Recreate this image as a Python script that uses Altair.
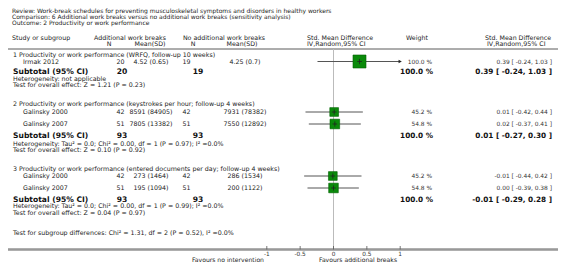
import altair as alt
import pandas as pd

# ---------------- data ----------------
title_lines = [
    "Review:  Work-break schedules for preventing musculoskeletal symptoms and disorders in healthy workers",
    "Comparison:  6 Additional work breaks versus no additional work breaks (sensitivity analysis)",
    "Outcome:  2 Productivity or work performance",
]
group_titles = [
    "1 Productivity or work performance (WRFQ, follow-up 10 weeks)",
    "2 Productivity or work performance (keystrokes per hour; follow-up 4 weeks)",
    "3 Productivity or work performance (entered documents per day; follow-up 4 weeks)",
]
study_names = ["Irmak 2012", "Galinsky 2000", "Galinsky 2007", "Galinsky 2000", "Galinsky 2007"]
n_exp = [20, 42, 51, 42, 51]
mean_exp = ["4.52 (0.65)", "8591 (84905)", "7805 (13382)", "273 (1464)", "195 (1094)"]
n_ctl = [19, 42, 51, 42, 51]
mean_ctl = ["4.25 (0.7)", "7931 (78382)", "7550 (12892)", "286 (1534)", "200 (1122)"]
smd = [0.39, 0.01, 0.02, -0.01, 0.00]
smd_lo = [-0.24, -0.42, -0.37, -0.44, -0.39]
smd_hi = [1.03, 0.44, 0.41, 0.42, 0.38]
weight = [100.0, 45.2, 54.8, 45.2, 54.8]

sub_n_exp = [20, 93, 93]
sub_n_ctl = [19, 93, 93]
sub_smd = [0.39, 0.01, -0.01]
sub_lo = [-0.24, -0.27, -0.29]
sub_hi = [1.03, 0.30, 0.28]
sub_weight = [100.0, 100.0, 100.0]
heterogeneity = [
    "Heterogeneity: not applicable",
    "Heterogeneity: Tau² = 0.0; Chi² = 0.00, df = 1 (P = 0.97); I² =0.0%",
    "Heterogeneity: Tau² = 0.0; Chi² = 0.00, df = 1 (P = 0.99); I² =0.0%",
]
overall_effect = [
    "Test for overall effect: Z = 1.21 (P = 0.23)",
    "Test for overall effect: Z = 0.10 (P = 0.92)",
    "Test for overall effect: Z = 0.04 (P = 0.97)",
]
subgroup_test = "Test for subgroup differences: Chi² = 1.31, df = 2 (P = 0.52), I² =0.0%"
axis_values = [-1, -0.5, 0, 0.5, 1]
axis_labels = ["-1", "-0.5", "0", "0.5", "1"]
favours_left = "Favours no intervention"
favours_right = "Favours additional breaks"

# ---------------- layout (page pixels) ----------------
OFF = 8
W, H = 550, 257
study_y = [61.5, 112, 124, 176, 188]
group_y = [54.5, 104, 169]
sub_y = [72, 136, 199.5]
het_y = [79, 144, 206]
ov_y = [85, 149.5, 212.5]
subgroup_y = 233
title_y = [10.6, 16.9, 23.2]
head1_y, head2_y = 38, 44
top_line_y = 49
axis_line_y = 249.5
FONT = "DejaVu Sans"
XS = alt.Scale(domain=[-1, 1], range=[266.8 - OFF, 400.2 - OFF])

texts = []
def add(t, x, y, style):
    texts.append({"t": t, "x": x - OFF, "y": y - OFF, "s": style})

for t, y in zip(title_lines, title_y):
    add(t, 12, y, "T")
add("Study or subgroup", 12, head1_y, "L")
add("Additional work breaks", 130, head1_y, "C")
add("N", 109, head2_y, "C")
add("Mean(SD)", 150, head2_y, "C")
add("No additional work breaks", 224, head1_y, "C")
add("N", 193, head2_y, "C")
add("Mean(SD)", 242, head2_y, "C")
add("Std. Mean Difference", 307, head1_y, "L")
add("IV,Random,95% CI", 307, head2_y, "L")
add("Weight", 406, head1_y, "L")
add("Std. Mean Difference", 485, head1_y, "L")
add("IV,Random,95% CI", 487, head2_y, "L")

for t, y in zip(group_titles, group_y):
    add(t, 13, y, "L")
for i, y in enumerate(study_y):
    add(study_names[i], 23, y, "L")
    add(str(n_exp[i]), 124.5, y, "R")
    add(mean_exp[i], 151, y, "C")
    add(str(n_ctl[i]), 190.5, y, "R")
    add(mean_ctl[i], 245, y, "C")
    add(f"{weight[i]:.1f} %", 432, y, "RS")
    add(f"{smd[i]:.2f} [ {smd_lo[i]:.2f}, {smd_hi[i]:.2f} ]", 552, y, "RS")
for i, y in enumerate(sub_y):
    add("Subtotal (95% CI)", 13, y, "LB")
    add(str(sub_n_exp[i]), 122, y, "CB")
    add(str(sub_n_ctl[i]), 198, y, "CB")
    add(f"{sub_weight[i]:.1f} %", 433, y, "RB")
    add(f"{sub_smd[i]:.2f} [ {sub_lo[i]:.2f}, {sub_hi[i]:.2f} ]", 552, y, "RB")
for t, y in zip(heterogeneity, het_y):
    add(t, 13, y, "L")
for t, y in zip(overall_effect, ov_y):
    add(t, 13, y, "L")
add(subgroup_test, 13, subgroup_y, "L")
add(favours_left, 264, 259.6, "F")
add(favours_right, 358, 259.6, "FC")

tdf = pd.DataFrame(texts)
styles = {
    "T": dict(align="left", fontSize=6.0, fontWeight="normal", color="#222"),
    "L": dict(align="left", fontSize=6.3, fontWeight="normal", color="#222"),
    "C": dict(align="center", fontSize=6.3, fontWeight="normal", color="#222"),
    "R": dict(align="right", fontSize=6.3, fontWeight="normal", color="#222"),
    "F": dict(align="right", fontSize=6.1, fontWeight="normal", color="#222"),
    "FC": dict(align="center", fontSize=6.1, fontWeight="normal", color="#222"),
    "RS": dict(align="right", fontSize=5.9, fontWeight="normal", color="#333"),
    "LB": dict(align="left", fontSize=7.6, fontWeight="bold", color="#111"),
    "CB": dict(align="center", fontSize=7.6, fontWeight="bold", color="#111"),
    "RB": dict(align="right", fontSize=7.3, fontWeight="bold", color="#111"),
}
text_layers = []
for key, st in styles.items():
    text_layers.append(
        alt.Chart(tdf).transform_filter(alt.datum.s == key)
        .mark_text(baseline="middle", font=FONT, **st)
        .encode(x=alt.X("x:Q", scale=None), y=alt.Y("y:Q", scale=None), text="t:N")
    )

# forest data
sdf = pd.DataFrame({"smd": smd, "lo": smd_lo, "hi": smd_hi, "w": weight,
                    "y": [v - OFF for v in study_y]})
ddf_rows = []
for g in range(3):
    yc = sub_y[g] - OFF
    hi = min(sub_hi[g], 1)
    ddf_rows += [
        {"g": g, "k": 0, "v": sub_lo[g], "y1": yc, "y2": yc},
        {"g": g, "k": 1, "v": sub_smd[g], "y1": yc - 3.2, "y2": yc + 3.2},
        {"g": g, "k": 2, "v": hi, "y1": yc, "y2": yc},
    ]
ddf = pd.DataFrame(ddf_rows)
adf = pd.DataFrame({"v": axis_values, "lab": axis_labels})

top_line = alt.Chart(adf).mark_rule(color="#aaa", strokeWidth=1).encode(
    x=alt.value(0), x2=alt.value(W), y=alt.value(top_line_y - OFF))
axis_line = alt.Chart(adf).mark_rule(color="#999", strokeWidth=1.5).encode(
    x=alt.value(0), x2=alt.value(W), y=alt.value(axis_line_y - OFF))
zero_line = alt.Chart(adf).mark_rule(color="#bbb", strokeWidth=1).encode(
    x=alt.datum(0, scale=XS), y=alt.value(top_line_y - OFF), y2=alt.value(axis_line_y - OFF))
ticks = alt.Chart(adf).mark_rule(color="#555", strokeWidth=0.8).encode(
    x=alt.X("v:Q", scale=XS), y=alt.value(axis_line_y - OFF - 3.5), y2=alt.value(axis_line_y - OFF))
tick_labels = alt.Chart(adf).mark_text(font=FONT, fontSize=5.8, color="#333", baseline="middle").encode(
    x=alt.X("v:Q", scale=XS), y=alt.value(253.8 - OFF), text="lab:N")

base = alt.Chart(sdf).transform_calculate(hic="min(datum.hi, 1)", ya="datum.y - 2.6", yb="datum.y + 2.6")
ci = base.mark_rule(color="#555", strokeWidth=1).encode(
    x=alt.X("lo:Q", scale=XS), x2="hic:Q", y=alt.Y("y:Q", scale=None))
arrow = base.transform_filter("datum.hi > 1").mark_point(
    shape="triangle-right", filled=True, color="#222", size=14, opacity=1).encode(
    x=alt.X("hic:Q", scale=XS), y=alt.Y("y:Q", scale=None))
squares = base.mark_point(shape="square", filled=True, color="#0a8a0a", stroke="#006000",
                          strokeWidth=0.6, opacity=1).encode(
    x=alt.X("smd:Q", scale=XS), y=alt.Y("y:Q", scale=None),
    size=alt.Size("w:Q", scale=alt.Scale(domain=[0, 100], range=[0, 169]), legend=None))
hbar = base.mark_rule(color="#222", strokeWidth=0.8).encode(
    x=alt.X("smd:Q", scale=XS), y=alt.Y("ya:Q", scale=None), y2="yb:Q")
hplus = base.transform_calculate(a="datum.smd - 0.035", b="datum.smd + 0.035").mark_rule(
    color="#222", strokeWidth=0.8).encode(x=alt.X("a:Q", scale=XS), x2="b:Q", y=alt.Y("y:Q", scale=None))
diamonds = alt.Chart(ddf).mark_area(color="black", opacity=1).encode(
    x=alt.X("v:Q", scale=XS), y=alt.Y("y1:Q", scale=None), y2="y2:Q",
    detail="g:N", order="k:Q")

chart = alt.layer(
    top_line, zero_line, axis_line, ticks, tick_labels,
    ci, squares, hplus, hbar, arrow, diamonds, *text_layers
).properties(
    width=W, height=H, padding=0, autosize=alt.AutoSizeParams(type="none")
).configure_view(stroke=None)

chart.save("out.html", embed_options={"renderer": "svg", "actions": False})
